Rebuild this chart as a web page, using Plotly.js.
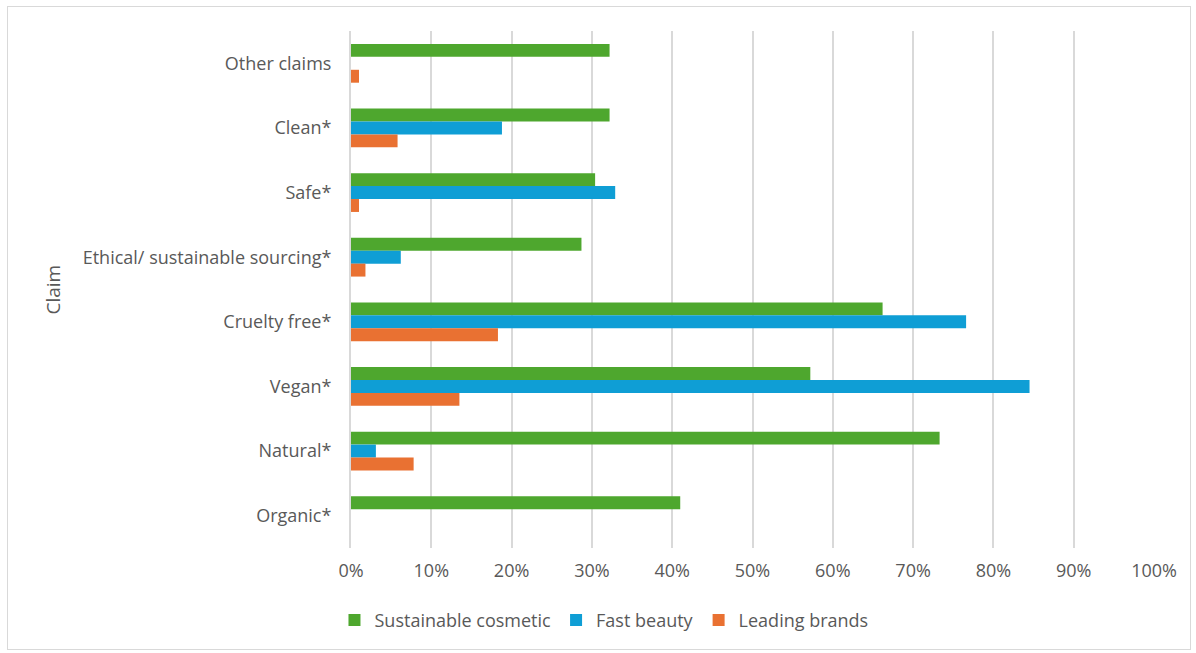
<!DOCTYPE html>
<html>
<head>
<meta charset="utf-8">
<script src="https://cdn.plot.ly/plotly-3.0.1.min.js"></script>
<style>
  html, body { margin: 0; padding: 0; background: #fff; }
  #wrap { position: relative; width: 1196px; height: 653px; }
  #chart { width: 1196px; height: 653px; }
  #frame { position: absolute; left: 7px; top: 6px; width: 1182px; height: 642px;
           border: 1px solid #d9d9d9; pointer-events: none; }
</style>
</head>
<body>
<div id="wrap">
  <div id="chart"></div>
  <div id="frame"></div>
</div>
<script>
// Categories, listed top to bottom as in the chart
const categories = ["Other claims", "Clean*", "Safe*", "Ethical/ sustainable sourcing*",
                    "Cruelty free*", "Vegan*", "Natural*", "Organic*"];
const sustainableCosmetic = [0.322, 0.322, 0.304, 0.287, 0.662, 0.572, 0.733, 0.410];
const fastBeauty          = [0.000, 0.188, 0.329, 0.062, 0.766, 0.845, 0.031, 0.000];
const leadingBrands       = [0.010, 0.058, 0.010, 0.018, 0.183, 0.135, 0.078, 0.000];
const seriesNames = ["Sustainable cosmetic", "Fast beauty", "Leading brands"];
const xTickVals = [0, 0.1, 0.2, 0.3, 0.4, 0.5, 0.6, 0.7, 0.8, 0.9, 1.0];
const xTickText = ["0%", "10%", "20%", "30%", "40%", "50%", "60%", "70%", "80%", "90%", "100%"];

const colors = ["#4ea72e", "#0f9ed5", "#e97132"];
const values = [sustainableCosmetic, fastBeauty, leadingBrands];

const traces = values.map((v, i) => ({
  type: "bar",
  orientation: "h",
  name: seriesNames[i],
  x: v,
  y: categories,
  marker: { color: colors[i] },
  hoverinfo: "x+y+name"
}));

const fontFam = "'Open Sans', Lato, sans-serif";
const layout = {
  width: 1196,
  height: 653,
  margin: { l: 351, r: 42, t: 31, b: 105 },
  paper_bgcolor: "#ffffff",
  plot_bgcolor: "#ffffff",
  font: { family: fontFam, size: 18, color: "#595959" },
  barmode: "group",
  bargap: 0.4,
  bargroupgap: 0,
  xaxis: {
    range: [0, 1.0],
    tickvals: xTickVals,
    ticktext: xTickText,
    showgrid: true,
    gridcolor: "#d9d9d9",
    gridwidth: 2,
    zeroline: false,
    showline: false,
    ticks: "",
    ticklabelstandoff: 10,
    tickfont: { size: 18, color: "#595959" },
    fixedrange: true
  },
  yaxis: {
    type: "category",
    autorange: "reversed",
    showgrid: false,
    zeroline: false,
    showline: true,
    linecolor: "#d9d9d9",
    linewidth: 2,
    ticks: "",
    ticklabelstandoff: 14,
    tickfont: { size: 18, color: "#595959" },
    automargin: false,
    fixedrange: true
  },
  showlegend: true,
  legend: {
    orientation: "h",
    xref: "container",
    yref: "container",
    x: 0.505,
    xanchor: "center",
    y: 0.05,
    yanchor: "middle",
    font: { size: 18, color: "#595959" },
    itemwidth: 30,
    traceorder: "normal"
  },
  annotations: [{
    text: "Claim",
    xref: "paper",
    yref: "paper",
    x: (52 - 351) / 803,
    y: 0.5,
    xanchor: "center",
    yanchor: "middle",
    textangle: -90,
    showarrow: false,
    font: { size: 19, color: "#595959", family: fontFam }
  }]
};

Plotly.newPlot("chart", traces, layout, { displayModeBar: false, staticPlot: false });
</script>
</body>
</html>
